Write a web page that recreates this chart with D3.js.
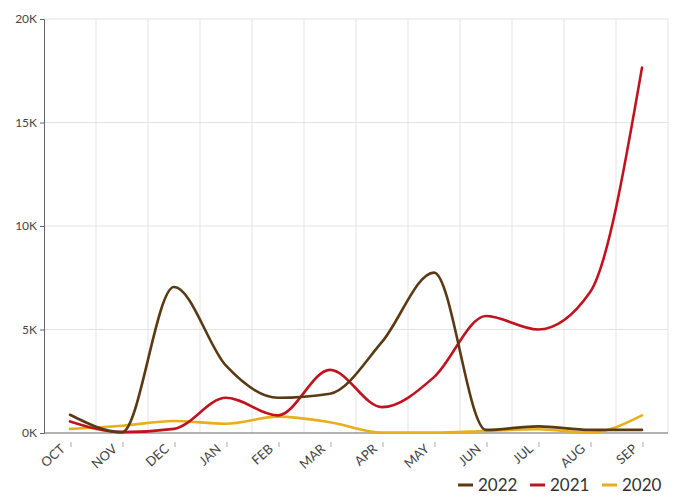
<!DOCTYPE html>
<html>
<head>
<meta charset="utf-8">
<script src="https://cdn.jsdelivr.net/npm/d3@7"></script>
<style>
  html, body { margin: 0; padding: 0; background: #fff; }
  svg { display: block; font-family: Lato, "Open Sans", sans-serif; }
</style>
</head>
<body>
<svg id="chart" width="673" height="497"></svg>
<script>
// Months of the season, October to September
const months = ["OCT", "NOV", "DEC", "JAN", "FEB", "MAR", "APR", "MAY", "JUN", "JUL", "AUG", "SEP"];

// Monthly totals per season
const values2022 = [880, 40, 7050, 3250, 1700, 1900, 4400, 7750, 150, 320, 150, 150];
const values2021 = [560, 40, 200, 1700, 850, 3050, 1250, 2700, 5650, 5000, 6800, 17650];
const values2020 = [200, 350, 580, 450, 790, 520, 20, 20, 100, 180, 20, 850];

const seriesNames = ["2022", "2021", "2020"];
const seriesColors = ["#5a3a14", "#c0131f", "#e8ae1c"];
const seriesValues = [values2022, values2021, values2020];

// Y axis ticks
const yTicks = [0, 5000, 10000, 15000, 20000];
const yTickLabels = ["0K", "5K", "10K", "15K", "20K"];

const svg = d3.select("#chart");
const plotLeft = 44, plotRight = 668, plotTop = 19, plotBottom = 433;

const x = d3.scaleBand().domain(months).range([plotLeft, plotRight]).padding(0);
const y = d3.scaleLinear().domain([0, 20000]).range([plotBottom, plotTop]);
const cx = m => x(m) + x.bandwidth() / 2;

// Vertical grid lines at band boundaries
const g = svg.append("g");
g.selectAll("line.vgrid")
  .data(months)
  .enter().append("line")
  .attr("class", "vgrid")
  .attr("x1", d => x(d) + x.bandwidth())
  .attr("x2", d => x(d) + x.bandwidth())
  .attr("y1", plotTop).attr("y2", plotBottom)
  .attr("stroke", "#e3e3e3").attr("stroke-width", 1);

// Horizontal grid lines
g.selectAll("line.hgrid")
  .data(yTicks.slice(1))
  .enter().append("line")
  .attr("class", "hgrid")
  .attr("x1", plotLeft).attr("x2", plotRight)
  .attr("y1", d => y(d)).attr("y2", d => y(d))
  .attr("stroke", "#e3e3e3").attr("stroke-width", 1);

// Y axis
const yAxis = d3.axisLeft(y).tickValues(yTicks)
  .tickFormat((d, i) => yTickLabels[i]).tickSize(4).tickPadding(3);
const ya = svg.append("g").attr("transform", `translate(${plotLeft},0)`).call(yAxis);
ya.select(".domain").attr("stroke", "#666");
ya.selectAll(".tick line").attr("stroke", "#666");
ya.selectAll(".tick text").attr("fill", "#444").style("font-size", "12px")
  .style("font-family", "Lato, sans-serif");

// X axis baseline
svg.append("line")
  .attr("x1", plotLeft).attr("x2", plotRight)
  .attr("y1", plotBottom).attr("y2", plotBottom)
  .attr("stroke", "#666").attr("stroke-width", 1);

// X ticks and rotated month labels
const xa = svg.append("g");
xa.selectAll("line.xt").data(months).enter().append("line")
  .attr("class", "xt")
  .attr("x1", d => cx(d) + 1).attr("x2", d => cx(d) + 1)
  .attr("y1", plotBottom + 9).attr("y2", plotBottom + 14)
  .attr("stroke", "#aaa").attr("stroke-width", 1);
xa.selectAll("text").data(months).enter().append("text")
  .attr("transform", d => `translate(${cx(d) - 4},${plotBottom + 17}) rotate(-42)`)
  .attr("text-anchor", "end")
  .attr("fill", "#444")
  .style("font-size", "13px")
  .text(d => d);

// Series lines
const line = d3.line()
  .x((d, i) => cx(months[i]))
  .y(d => y(d))
  .curve(d3.curveMonotoneX);

// draw 2020 first so the darker series sit on top
[2, 1, 0].forEach(k => {
  svg.append("path")
    .datum(seriesValues[k])
    .attr("fill", "none")
    .attr("stroke", seriesColors[k])
    .attr("stroke-width", 2.6)
    .attr("stroke-linecap", "round")
    .attr("stroke-linejoin", "round")
    .attr("d", line);
});

// Legend
const legendX = [458, 530, 602];
const legend = svg.append("g");
seriesNames.forEach((name, i) => {
  legend.append("line")
    .attr("x1", legendX[i]).attr("x2", legendX[i] + 15)
    .attr("y1", 485).attr("y2", 485)
    .attr("stroke", seriesColors[i]).attr("stroke-width", 3);
  legend.append("text")
    .attr("x", legendX[i] + 20).attr("y", 491)
    .attr("fill", "#333")
    .style("font-size", "17px")
    .text(name);
});
</script>
</body>
</html>
